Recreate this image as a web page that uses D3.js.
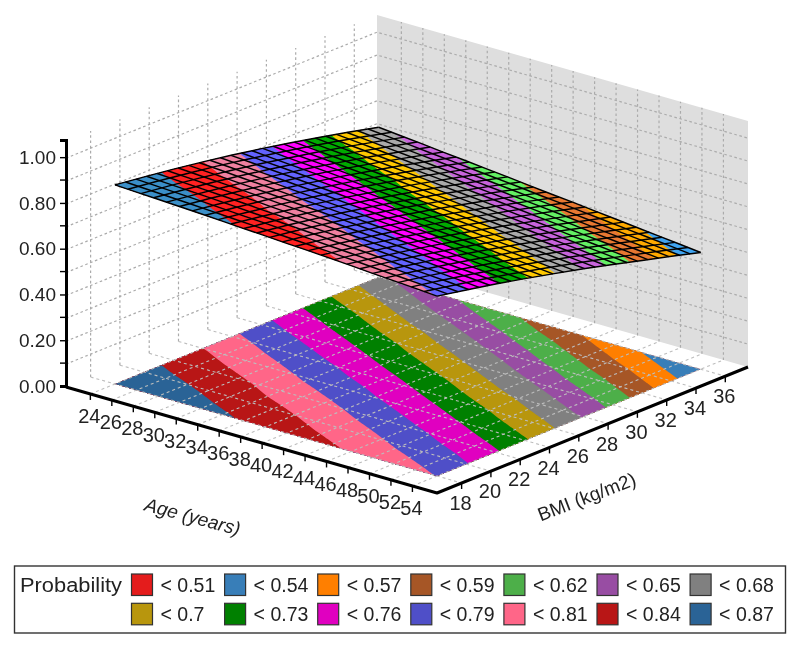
<!DOCTYPE html>
<html><head><meta charset="utf-8">
<script src="https://cdn.jsdelivr.net/npm/d3@7/dist/d3.min.js"></script>
<style>html,body{margin:0;padding:0;background:#fff}svg{display:block}text{font-family:"Liberation Sans",Arial,sans-serif;fill:#222}</style>
</head><body><svg id="chart" width="800" height="648"></svg>
<script>
// ---- data ----
const ages = [24,26,28,30,32,34,36,38,40,42,44,46,48,50,52,54];
const bmis = [18,20,22,24,26,28,30,32,34,36];
const zTicks = [0,0.2,0.4,0.6,0.8,1.0];
// probability along age, one list per BMI
const probBmi18 = [.870,.865,.861,.856,.851,.846,.840,.835,.829,.824,.818,.812,.805,.799,.793,.786];
const probBmi20 = [.853,.848,.843,.838,.832,.826,.821,.815,.809,.802,.796,.789,.782,.776,.769,.761];
const probBmi22 = [.835,.829,.824,.818,.812,.805,.799,.793,.786,.779,.772,.765,.758,.750,.743,.735];
const probBmi24 = [.815,.809,.802,.796,.789,.782,.776,.769,.761,.754,.747,.739,.731,.723,.715,.707];
const probBmi26 = [.793,.786,.779,.772,.765,.758,.750,.743,.735,.727,.719,.711,.703,.694,.686,.677];
const probBmi28 = [.769,.761,.754,.747,.739,.731,.723,.715,.707,.699,.690,.681,.673,.664,.655,.646];
const probBmi30 = [.743,.735,.727,.719,.711,.703,.694,.686,.677,.668,.659,.650,.641,.632,.623,.613];
const probBmi32 = [.715,.707,.699,.690,.681,.673,.664,.655,.646,.637,.627,.618,.608,.599,.589,.579];
const probBmi34 = [.686,.677,.668,.659,.650,.641,.632,.623,.613,.604,.594,.584,.574,.565,.555,.545];
const probBmi36 = [.655,.646,.637,.627,.618,.608,.599,.589,.579,.570,.560,.550,.540,.530,.520,.510];
const legendLabels = ["< 0.51","< 0.54","< 0.57","< 0.59","< 0.62","< 0.65","< 0.68","< 0.7","< 0.73","< 0.76","< 0.79","< 0.81","< 0.84","< 0.87"];
const bandLower = [.4823,.5100,.5377,.5654,.5931,.6208,.6485,.6762,.7039,.7316,.7593,.7870,.8147,.8424];
const floorColors = ["#e41a1c","#377eb8","#ff7f00","#a65628","#4daf4a","#984ea3","#808080","#b8960a","#008000","#e000c0","#5050c8","#ff6688","#b81414","#2a6496"];
const topColors = ["#ff2020","#3fa4f0","#ffaa00","#e87830","#64f064","#c864dc","#aaaaaa","#ffc800","#00aa00","#ff00ff","#6464ff","#f080a0","#ff2020","#3a8fc8"];
// ---- projection: parallel view, three scales ----
const probByBmi = [probBmi18,probBmi20,probBmi22,probBmi24,probBmi26,probBmi28,probBmi30,probBmi32,probBmi34,probBmi36];
const ageDomain=[21.73,56.29], bmiDomain=[16.32,37.55], zDomain=[0,1.075];
const ORI=[66,387];
const ageX=d3.scaleLinear(ageDomain,[0,371]), ageY=d3.scaleLinear(ageDomain,[0,106]);
const bmiX=d3.scaleLinear(bmiDomain,[0,311]), bmiY=d3.scaleLinear(bmiDomain,[0,-126]);
const zH=d3.scaleLinear(zDomain,[0,246]);
const P=(a,b,z=0)=>[ORI[0]+ageX(a)+bmiX(b), ORI[1]+ageY(a)+bmiY(b)-zH(z)];
const line=d3.line();
function prob(a,b){
  const i=Math.min(ages.length-2,Math.max(0,d3.bisectRight(ages,a)-1));
  const j=Math.min(bmis.length-2,Math.max(0,d3.bisectRight(bmis,b)-1));
  const u=(a-ages[i])/(ages[i+1]-ages[i]), v=(b-bmis[j])/(bmis[j+1]-bmis[j]);
  const c0=probByBmi[j], c1=probByBmi[j+1];
  return (1-u)*(1-v)*c0[i]+u*(1-v)*c0[i+1]+(1-u)*v*c1[i]+u*v*c1[i+1];
}
const svg=d3.select("#chart");
const defs=svg.append("defs");
defs.append("filter").attr("id","soft").attr("x",0).attr("y",0).attr("width",1).attr("height",1)
  .append("feGaussianBlur").attr("stdDeviation",0.45);
const g=svg.append("g").attr("filter","url(#soft)");
g.append("rect").attr("width",800).attr("height",648).attr("fill","#fff");
const [aMin,aMax]=ageDomain,[bMin,bMax]=bmiDomain,zTop=zDomain[1];
// back wall
g.append("path").attr("d",line([P(aMin,bMax),P(aMin,bMax,zTop),P(aMax,bMax,zTop),P(aMax,bMax)])+"Z").attr("fill","#dedede");
// grids
const grid=g.append("g").attr("fill","none").attr("stroke","#ababab").attr("stroke-width",1.2).attr("stroke-dasharray","2.6 2.6");
const zGrid=d3.range(1,11).map(k=>k/10);
bmis.forEach(b=>grid.append("path").attr("d",line([P(aMin,b),P(aMin,b,zTop)])));
ages.forEach(a=>grid.append("path").attr("d",line([P(a,bMax),P(a,bMax,zTop)])));
zGrid.forEach(z=>grid.append("path").attr("d",line([P(aMin,bMin,z),P(aMin,bMax,z),P(aMax,bMax,z)])));
// contour bands
const nx=300, ny=200, a0=ages[0], a1=ages[ages.length-1], b0=bmis[0], b1=bmis[bmis.length-1];
const values=new Float64Array(nx*ny);
for(let y=0;y<ny;y++)for(let x=0;x<nx;x++)
  values[y*nx+x]=prob(a0+(x+.5)/nx*(a1-a0), b0+(y+.5)/ny*(b1-b0));
const bands=d3.contours().size([nx,ny]).thresholds(bandLower)(values);
function bandPath(mp,withZ){
  return mp.coordinates.map(poly=>poly.map(ring=>line(ring.map(([x,y])=>{
    const a=a0+x/nx*(a1-a0), b=b0+y/ny*(b1-b0);
    return P(a,b,withZ?prob(a,b):0);
  }))+"Z").join("")).join("");
}
// floor
const floor=g.append("g");
bands.forEach((m,i)=>floor.append("path").attr("d",bandPath(m,false)).attr("fill",floorColors[i]));
// floor grid
const fgrid=g.append("g").attr("fill","none").attr("stroke","#bdbdbd").attr("stroke-width",1.1).attr("stroke-dasharray","3 3");
bmis.forEach(b=>fgrid.append("path").attr("d",line([P(aMin,b),P(aMax,b)])));
ages.forEach(a=>fgrid.append("path").attr("d",line([P(a,bMin),P(a,bMax)])));
// axes
const axisG=g.append("g");
const yz=d3.scaleLinear(zDomain,[386,386-246]);
const zAxis=d3.axisLeft(yz).tickValues(zTicks).tickFormat(d3.format(".2f")).tickSize(6).tickPadding(4);
const zg=axisG.append("g").attr("transform","translate(66,0)").call(zAxis);
zg.select(".domain").attr("stroke","#000").attr("stroke-width",3);
zg.selectAll(".tick line").attr("stroke","#000").attr("stroke-width",1.4);
zg.selectAll(".tick text").attr("font-size",19).style("font-family",'"Liberation Sans"').attr("fill","#222");
d3.range(.1,1.01,.2).forEach(z=>axisG.append("line").attr("x1",60).attr("x2",66).attr("y1",yz(z)).attr("y2",yz(z)).attr("stroke","#000").attr("stroke-width",1.4));
axisG.append("path").attr("d",line([P(aMin,bMin),P(aMax,bMin),P(aMax,bMax)])).attr("fill","none").attr("stroke","#000").attr("stroke-width",3).attr("stroke-linejoin","round");
ages.forEach(a=>{const p=P(a,bMin);
  axisG.append("line").attr("x1",p[0]).attr("x2",p[0]).attr("y1",p[1]).attr("y2",p[1]+6).attr("stroke","#000").attr("stroke-width",1.4);
  axisG.append("text").attr("x",p[0]-1).attr("y",p[1]+22).attr("dy",".36em").attr("text-anchor","middle").attr("font-size",20).text(a);});
bmis.forEach(b=>{const p=P(aMax,b);
  axisG.append("line").attr("x1",p[0]).attr("x2",p[0]).attr("y1",p[1]).attr("y2",p[1]+6).attr("stroke","#000").attr("stroke-width",1.4);
  axisG.append("text").attr("x",p[0]-1).attr("y",p[1]+20).attr("dy",".36em").attr("text-anchor","middle").attr("font-size",20).text(b);});
axisG.append("text").attr("transform","translate(191,523) rotate(15)").attr("text-anchor","middle").attr("font-size",19).attr("font-style","italic").text("Age (years)");
axisG.append("text").attr("transform","translate(589,503) rotate(-21)").attr("text-anchor","middle").attr("font-size",19).text("BMI (kg/m2)");
// top surface
const surf=g.append("g");
bands.forEach((m,i)=>surf.append("path").attr("d",bandPath(m,true)).attr("fill",topColors[i]));
const meshAges=d3.range(a0,a1+.01,1.2), meshBmis=d3.range(b0,b1+.01,.72);
const mesh=surf.append("g").attr("fill","none").attr("stroke","#000").attr("stroke-width",1.45);
meshAges.forEach(a=>mesh.append("path").attr("d",line(bmis.map(b=>P(a,b,prob(a,b))))));
meshBmis.forEach(b=>mesh.append("path").attr("d",line(ages.map(a=>P(a,b,prob(a,b))))));
// legend
const lg=g.append("g");
lg.append("rect").attr("x",14.5).attr("y",566).attr("width",771).attr("height",67).attr("fill","#fff").attr("stroke","#333").attr("stroke-width",1.4);
lg.append("text").attr("x",20).attr("y",592).attr("font-size",20).attr("textLength",102).attr("lengthAdjust","spacingAndGlyphs").text("Probability");
legendLabels.forEach((t,i)=>{
  const c=i%7, r=Math.floor(i/7), x=131.5+c*93.1, y=574+r*29.3;
  lg.append("rect").attr("x",x).attr("y",y).attr("width",21).attr("height",21.5).attr("fill",floorColors[i]).attr("stroke","#333").attr("stroke-width",1.2);
  lg.append("text").attr("x",x+29).attr("y",y+18).attr("font-size",19.5).text(t);
});
</script></body></html>
